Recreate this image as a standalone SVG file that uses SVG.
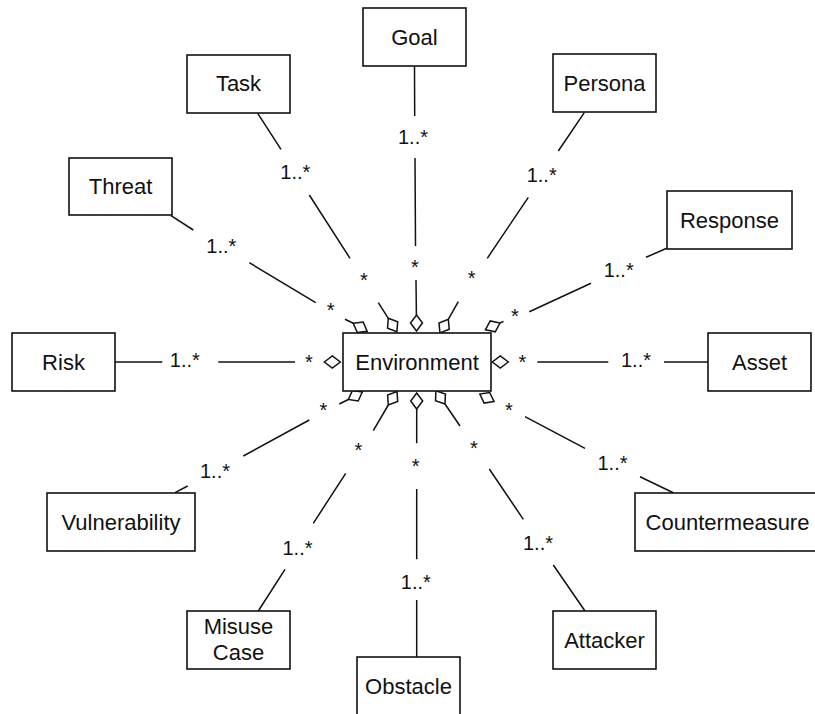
<svg xmlns="http://www.w3.org/2000/svg" xmlns:xlink="http://www.w3.org/1999/xlink" width="815" height="714" viewBox="0 0 815 714">
  <style>
    .box { fill: #ffffff; stroke: #111111; stroke-width: 1.6; }
    .name { font-family: "Liberation Sans", Arial, Helvetica, sans-serif; font-size: 22px; fill: #111111; text-anchor: middle; }
    .link { fill: none; stroke: #111111; stroke-width: 1.5; stroke-linecap: butt; }
    .mult { font-family: "Liberation Sans", Arial, Helvetica, sans-serif; font-size: 20px; fill: #111111; text-anchor: middle; }
    .agg { fill: #ffffff; stroke: #111111; stroke-width: 1.5; stroke-linejoin: miter; }
  </style>
  <defs>
    <!-- aggregation diamond: origin at the outer tip, +x points at the owning class -->
    <path id="diamond" d="M0,0 L8,-6 L16,0 L8,6 Z"/>
  </defs>

  <rect width="815" height="714" fill="#ffffff"/>

  <!-- connectors (segments are broken where multiplicities sit) -->
  <g id="connectors">
    <!-- Goal -->
    <path class="link" d="M414.5,66 L414.7,116 M415,158 L415.5,246 M416,280 L416.4,315"/>
    <use xlink:href="#diamond" href="#diamond" class="agg" transform="translate(416.5,315) rotate(90)"/>
    <text class="mult" x="413" y="144">1..*</text>
    <text class="mult" x="415" y="273.5">*</text>

    <!-- Task -->
    <path class="link" d="M257.7,113.3 L281,149.3 M309.3,195 L350,258.3 M378.3,302.7 L388.3,318.3"/>
    <use xlink:href="#diamond" href="#diamond" class="agg" transform="translate(388.3,318.3) rotate(57.5)"/>
    <text class="mult" x="295.3" y="179.3">1..*</text>
    <text class="mult" x="364" y="286.5">*</text>

    <!-- Persona -->
    <path class="link" d="M584.3,112.7 L558.3,151 M528.3,197.3 L487.3,258.3 M458.3,301.7 L448.3,319.3"/>
    <use xlink:href="#diamond" href="#diamond" class="agg" transform="translate(448.3,319.3) rotate(121.5)"/>
    <text class="mult" x="541.7" y="181.7">1..*</text>
    <text class="mult" x="471.7" y="284.8">*</text>

    <!-- Threat -->
    <path class="link" d="M171,215.7 L193.3,230 M249.3,262.7 L315.7,302.7 M345,319.3 L353.3,323.3"/>
    <use xlink:href="#diamond" href="#diamond" class="agg" transform="translate(353.3,323.3) rotate(30)"/>
    <text class="mult" x="221.3" y="252.7">1..*</text>
    <text class="mult" x="330.7" y="316.5">*</text>

    <!-- Response -->
    <path class="link" d="M666.7,248.3 L646,257.3 M591,283.3 L529.3,311.7 M503.6,321.4 L500,323"/>
    <use xlink:href="#diamond" href="#diamond" class="agg" transform="translate(500,323) rotate(155.3)"/>
    <text class="mult" x="618.7" y="276.7">1..*</text>
    <text class="mult" x="515" y="323.2">*</text>

    <!-- Risk -->
    <path class="link" d="M115,362 L162.3,362 M218.3,362 L295,362"/>
    <use xlink:href="#diamond" href="#diamond" class="agg" transform="translate(324.3,362) rotate(0)"/>
    <text class="mult" x="184.8" y="366.7">1..*</text>
    <text class="mult" x="309" y="369">*</text>

    <!-- Asset -->
    <path class="link" d="M708,362 L664,362 M608.3,362 L537.3,362"/>
    <use xlink:href="#diamond" href="#diamond" class="agg" transform="translate(508.3,362) rotate(180)"/>
    <text class="mult" x="636" y="366.7">1..*</text>
    <text class="mult" x="522.5" y="369">*</text>

    <!-- Vulnerability -->
    <path class="link" d="M175,492.7 L187.7,486 M243.3,456 L309.3,420 M339.3,404 L348.3,399.5"/>
    <use xlink:href="#diamond" href="#diamond" class="agg" transform="translate(348.3,399.5) rotate(-28.4)"/>
    <text class="mult" x="215" y="478.3">1..*</text>
    <text class="mult" x="323.3" y="416.5">*</text>

    <!-- Countermeasure -->
    <path class="link" d="M673.3,492.7 L640,476.7 M585,448.3 L525,416.7"/>
    <use xlink:href="#diamond" href="#diamond" class="agg" transform="translate(494,401.5) rotate(207.8)"/>
    <text class="mult" x="612.5" y="470">1..*</text>
    <text class="mult" x="509" y="416.5">*</text>

    <!-- Misuse Case -->
    <path class="link" d="M258.3,611 L285,569.3 M313.3,523.3 L345.7,473.3 M373.3,430.7 L388.3,405"/>
    <use xlink:href="#diamond" href="#diamond" class="agg" transform="translate(388.3,405) rotate(-57)"/>
    <text class="mult" x="297.5" y="555">1..*</text>
    <text class="mult" x="358.3" y="456.5">*</text>

    <!-- Obstacle -->
    <path class="link" d="M416.7,657 L416.7,600 M416.7,559.3 L416.7,489 M416.7,443.3 L416.7,409"/>
    <use xlink:href="#diamond" href="#diamond" class="agg" transform="translate(416.7,409) rotate(-90)"/>
    <text class="mult" x="415.8" y="589">1..*</text>
    <text class="mult" x="415.7" y="473.2">*</text>

    <!-- Attacker -->
    <path class="link" d="M585,611 L553.3,565 M523.3,519.3 L489.3,469 M460,426 L445,404"/>
    <use xlink:href="#diamond" href="#diamond" class="agg" transform="translate(445,404) rotate(-124.5)"/>
    <text class="mult" x="538" y="550">1..*</text>
    <text class="mult" x="474" y="454.8">*</text>
  </g>

  <!-- classes -->
  <g id="environment">
    <rect class="box" x="343" y="333" width="148" height="58"/>
    <text class="name" x="417" y="369.5">Environment</text>
  </g>
  <g id="goal">
    <rect class="box" x="363" y="8" width="103" height="58"/>
    <text class="name" x="414.5" y="44.5">Goal</text>
  </g>
  <g id="task">
    <rect class="box" x="187" y="55" width="103" height="58"/>
    <text class="name" x="238.5" y="91">Task</text>
  </g>
  <g id="persona">
    <rect class="box" x="553" y="54" width="103" height="58"/>
    <text class="name" x="604.5" y="90.5">Persona</text>
  </g>
  <g id="threat">
    <rect class="box" x="69" y="158" width="103" height="57"/>
    <text class="name" x="120.5" y="194">Threat</text>
  </g>
  <g id="response">
    <rect class="box" x="667" y="191" width="125" height="58"/>
    <text class="name" x="729.5" y="227.5">Response</text>
  </g>
  <g id="risk">
    <rect class="box" x="12" y="333" width="103" height="58"/>
    <text class="name" x="63.5" y="369.5">Risk</text>
  </g>
  <g id="asset">
    <rect class="box" x="708" y="333" width="103" height="58"/>
    <text class="name" x="759.5" y="369.5">Asset</text>
  </g>
  <g id="vulnerability">
    <rect class="box" x="47" y="493" width="148" height="58"/>
    <text class="name" x="121" y="529.5">Vulnerability</text>
  </g>
  <g id="countermeasure">
    <rect class="box" x="635" y="493" width="185" height="58"/>
    <text class="name" x="727.5" y="529.5">Countermeasure</text>
  </g>
  <g id="misuse-case">
    <rect class="box" x="187" y="611" width="103" height="58"/>
    <text class="name" x="238.5" y="634.3">Misuse</text>
    <text class="name" x="238.5" y="660">Case</text>
  </g>
  <g id="attacker">
    <rect class="box" x="553" y="611" width="103" height="58"/>
    <text class="name" x="604.5" y="647.5">Attacker</text>
  </g>
  <g id="obstacle">
    <rect class="box" x="357" y="657" width="103" height="58"/>
    <text class="name" x="408.5" y="694">Obstacle</text>
  </g>
</svg>
